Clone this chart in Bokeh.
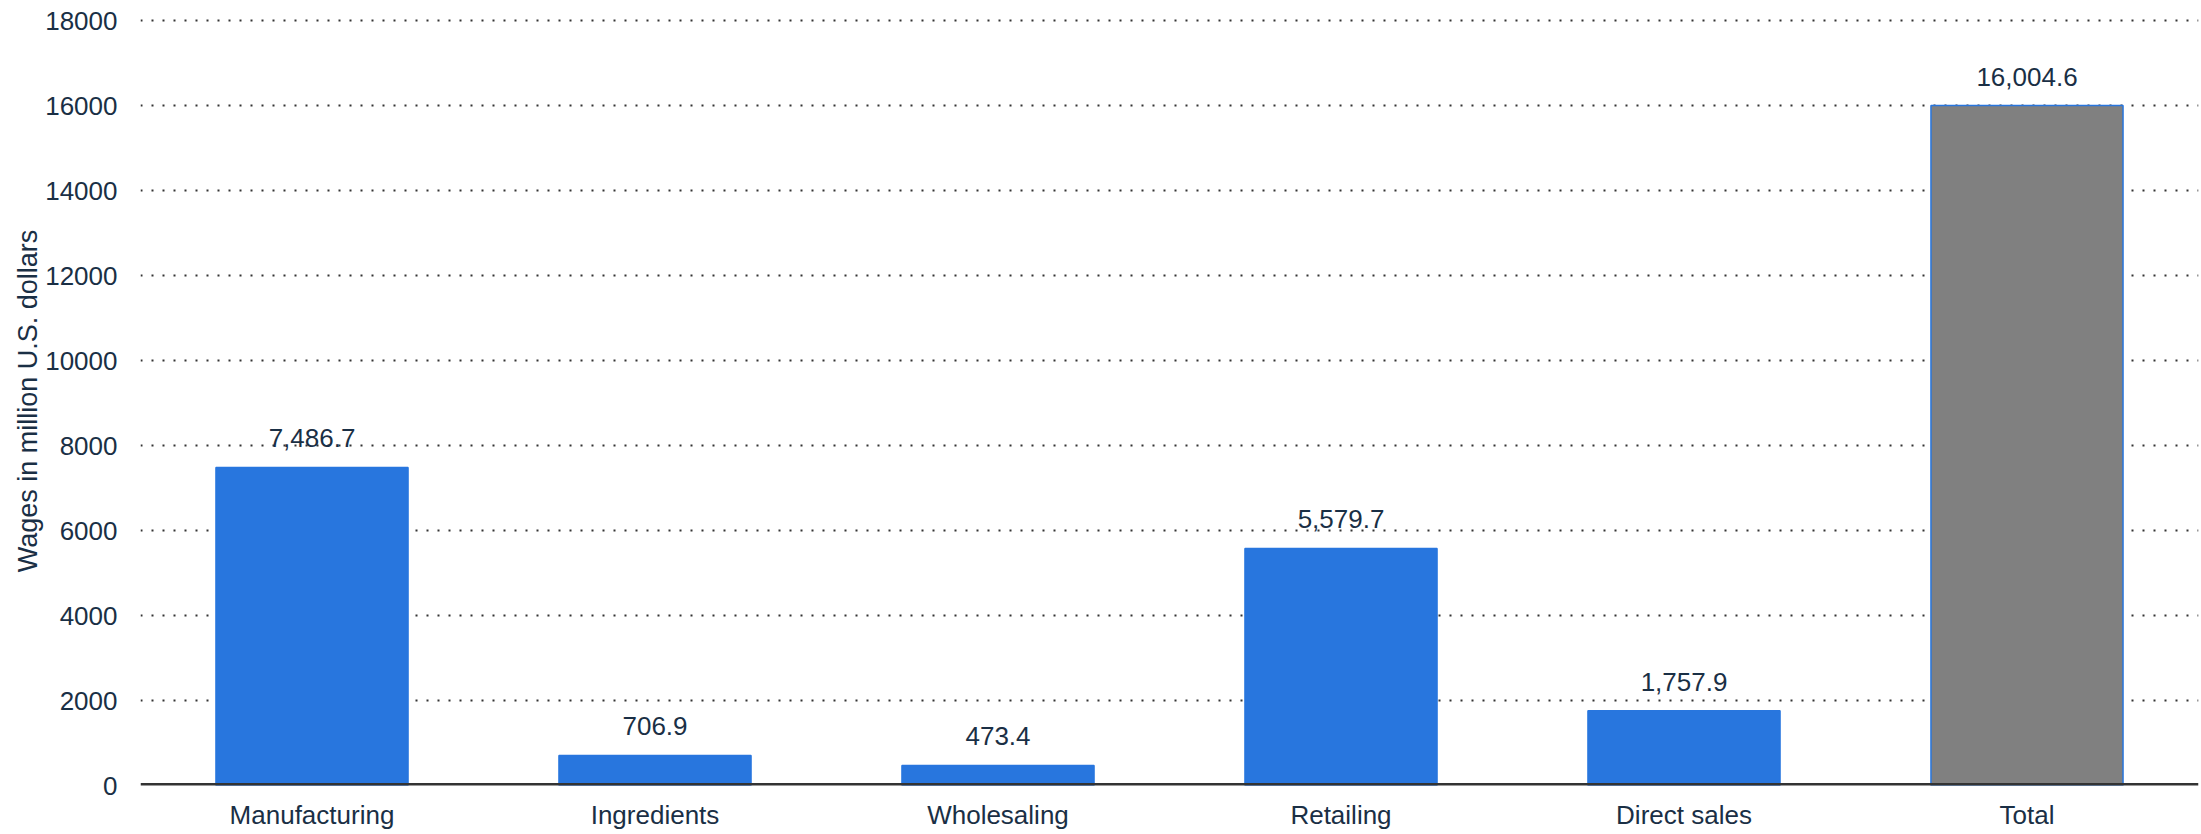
from bokeh.plotting import figure
from bokeh.models import FixedTicker, Span, ColumnDataSource
from bokeh.core.properties import value
from bokeh.embed import file_html
from bokeh.resources import INLINE

# Wages by sector, in million U.S. dollars
categories = ["Manufacturing", "Ingredients", "Wholesaling", "Retailing", "Direct sales", "Total"]
wages = [7486.7, 706.9, 473.4, 5579.7, 1757.9, 16004.6]
y_ticks = [0, 2000, 4000, 6000, 8000, 10000, 12000, 14000, 16000, 18000]

BLUE = "#2876de"
GREY = "#808080"
TEXT = "#1a2f45"
FONT = "Liberation Sans"

fills = [GREY if c == "Total" else BLUE for c in categories]
labels = [f"{v:,.1f}" for v in wages]

src = ColumnDataSource(dict(cat=categories, val=wages, fill=fills, label=labels))

p = figure(
    x_range=categories,
    y_range=(0, 18100),
    width=2201,
    height=834,
    output_backend="svg",
    toolbar_location=None,
    min_border_left=140,
    min_border_right=3,
    min_border_top=16,
    min_border_bottom=49,
)
p.outline_line_color = None
p.background_fill_color = "white"
p.border_fill_color = "white"

p.vbar(x="cat", top="val", width=0.56, source=src,
       fill_color="fill", line_color=BLUE, line_width=1.5)

p.text(x="cat", y="val", text="label", source=src,
       text_align="center", text_baseline="middle", y_offset=-29,
       text_font=value(FONT), text_font_size="26px", text_color=TEXT)

# zero baseline
p.add_layout(Span(location=0, dimension="width", line_color="#333333", line_width=5))

# y axis
p.yaxis.ticker = FixedTicker(ticks=y_ticks)
p.yaxis.axis_label = "Wages in million U.S. dollars"
p.yaxis.axis_label_text_font = FONT
p.yaxis.axis_label_text_font_size = "27px"
p.yaxis.axis_label_text_font_style = "normal"
p.yaxis.axis_label_text_color = TEXT
p.yaxis.axis_label_standoff = -1
p.yaxis.major_label_text_font = FONT
p.yaxis.major_label_text_font_size = "26px"
p.yaxis.major_label_text_color = TEXT
p.yaxis.major_tick_out = 0
p.yaxis.major_label_standoff = 23
p.yaxis.axis_line_color = None
p.yaxis.major_tick_line_color = None
p.yaxis.minor_tick_line_color = None
p.yaxis.formatter.use_scientific = False

# x axis
p.xaxis.major_label_text_font = FONT
p.xaxis.major_label_text_font_size = "26px"
p.xaxis.major_label_text_color = TEXT
p.xaxis.major_tick_out = 0
p.xaxis.major_label_standoff = 14
p.xaxis.axis_line_color = None
p.xaxis.major_tick_line_color = None
p.xaxis.minor_tick_line_color = None

# grid
p.xgrid.grid_line_color = None
p.ygrid.ticker = FixedTicker(ticks=y_ticks[1:])
p.ygrid.grid_line_color = "#333333"
p.ygrid.grid_line_width = 2
p.ygrid.grid_line_dash = "2 9"

open("out.html", "w").write(file_html(p, INLINE))
